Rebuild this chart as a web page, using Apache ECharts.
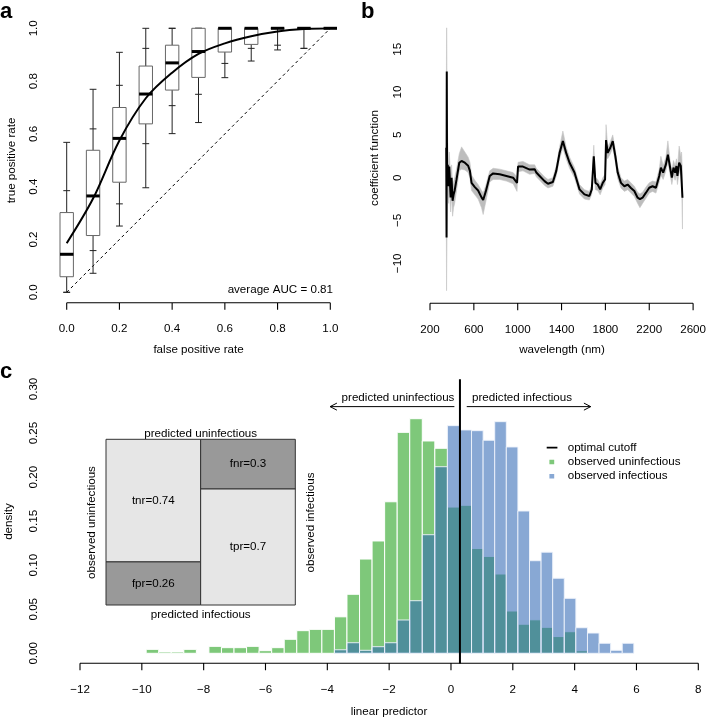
<!DOCTYPE html>
<html>
<head>
<meta charset="utf-8">
<script src="https://cdn.jsdelivr.net/npm/echarts@6/dist/echarts.min.js"></script>
<style>
  html, body { margin: 0; padding: 0; background: #fff; }
  #chart { width: 709px; height: 720px; }
</style>
</head>
<body>
<div id="chart"></div>
<script>
// ---- panel a: cross-validated ROC, boxplots per false positive rate ----
var fprSteps    = [0, 0.1, 0.2, 0.3, 0.4, 0.5, 0.6, 0.7, 0.8, 0.9, 1.0];
var whiskerLow  = [0.0, 0.072, 0.251, 0.396, 0.601, 0.643, 0.813, 0.876, 0.918, 0.924, 1.0];
var markLow     = [0.0, 0.158, 0.335, 0.563, 0.707, 0.750, 0.867, 0.924, 0.936, 0.924, 1.0];
var boxQ1       = [0.059, 0.215, 0.417, 0.638, 0.766, 0.814, 0.910, 0.939, 1.0, 1.0, 1.0];
var boxMedian   = [0.144, 0.365, 0.583, 0.751, 0.869, 0.912, 1.0, 1.0, 1.0, 1.0, 1.0];
var boxQ3       = [0.302, 0.538, 0.700, 0.857, 0.936, 1.0, 1.0, 1.0, 1.0, 1.0, 1.0];
var markHigh    = [0.385, 0.619, 0.784, 0.924, 1.0, 1.0, 1.0, 1.0, 1.0, 1.0, 1.0];
var whiskerHigh = [0.568, 0.769, 0.909, 1.0, 1.0, 1.0, 1.0, 1.0, 1.0, 1.0, 1.0];
var rocMeanTpr  = [0.186, 0.355, 0.575, 0.735, 0.832, 0.903, 0.943, 0.970, 0.988, 0.997, 1.0];
var rocTicks    = [0, 0.2, 0.4, 0.6, 0.8, 1.0];
var aucText = 'average AUC = 0.81';

// ---- panel b: coefficient function over wavelength ----
var wavelength = [348, 351, 353, 356, 362, 370, 376, 382, 388, 397, 406, 415, 425, 442, 467, 488, 518, 548, 564, 579,
  609, 639, 670, 685, 709, 745, 776, 836, 897, 958, 994, 1003, 1048, 1109, 1155, 1170, 1200, 1245, 1276, 1321,
  1352, 1382, 1412, 1442, 1473, 1518, 1564, 1609, 1654, 1676, 1694, 1709, 1730, 1752, 1776, 1797, 1806, 1821, 1845, 1867,
  1891, 1912, 1942, 1973, 2003, 2033, 2064, 2094, 2115, 2139, 2170, 2200, 2230, 2261, 2291, 2306, 2327, 2352, 2370, 2388,
  2406, 2421, 2436, 2448, 2457, 2473, 2488, 2495, 2503];
var coefMean = [3.5, -7.0, 12.4, -1.0, 1.5, -1.0, 1.3, -0.5, -2.3, 0.0, -2.7, -2.0, -1.5, -0.2, 1.75, 1.95, 1.75, 1.4, 0.8, -0.6,
  -1.1, -1.5, -2.3, -2.6, -1.6, 0.2, 0.5, 0.4, 0.2, 0.0, -0.6, 1.3, 1.3, 0.95, 1.0, 0.6, 0.2, -0.4, -0.7, -0.5,
  0.8, 2.9, 4.3, 2.9, 1.75, 0.6, -1.36, -1.95, -2.14, -1.36, 2.5, -0.6, -0.8, -1.36, -0.6, -0.2, 4.4, 2.9, 3.5, 4.28,
  2.5, 0.6, -0.6, -1.0, -0.8, -1.2, -1.56, -2.34, -2.5, -2.34, -1.75, -1.17, -1.0, -1.17, 0.2, 1.17, 0.6, 1.56, 2.7, 1.36,
  0.0, 1.17, 0.6, 1.36, 0.2, 1.75, 1.36, 1.2, -2.34];
var bandLow = [-3, -13.2, -10, -6, -2, -3, -1.5, -2.5, -4, -2, -4.5, -3.5, -3, -1.5, 0.8, 1.0, 0.9, 0.6, 0, -1.5,
  -2, -2.5, -3.5, -4.3, -2.8, -0.5, -0.2, -0.2, -0.4, -0.7, -1.6, 0.7, 0.8, 0.4, 0.5, 0.1, -0.3, -0.9, -1.2, -1.0,
  0.2, 2.2, 3.5, 2.2, 1.1, 0, -1.9, -2.5, -2.6, -1.9, 1.5, -1.4, -1.5, -2.0, -1.2, -0.8, 2.5, 2.2, 2.8, 3.5,
  1.8, -0.1, -1.2, -1.6, -1.4, -1.8, -2.2, -3.0, -3.5, -3.0, -2.4, -1.8, -1.6, -1.8, -0.5, 0.3, -0.2, 0.8, 1.8, 0.5,
  -0.8, 0.3, -0.3, 0.4, -0.8, 0.7, 0.3, -0.5, -6.0];
var bandHigh = [5, 17.5, 17.5, 8, 4, 1.5, 3, 1.5, 0, 1.5, -1, -0.5, 0, 1, 2.8, 3.6, 3.0, 2.4, 1.8, 0.3,
  -0.3, -0.8, -1.5, -1.8, -0.9, 0.8, 1.1, 1.0, 0.8, 0.6, 0.1, 1.8, 1.9, 1.5, 1.5, 1.1, 0.7, 0.1, -0.2, 0,
  1.4, 3.6, 5.45, 3.6, 2.4, 1.2, -0.8, -1.4, -1.6, -0.8, 3.8, 0, -0.2, -0.8, 0, 0.4, 6.2, 3.6, 4.2, 5.0,
  3.2, 1.3, 0, -0.4, -0.2, -0.6, -1.0, -1.7, -1.9, -1.7, -1.1, -0.6, -0.4, -0.5, 1.0, 2.5, 1.4, 2.4, 4.3, 2.2,
  0.8, 2.0, 1.4, 2.2, 1.2, 3.7, 2.5, 3.0, 0.5];
var wavelengthTicks = [200, 600, 1000, 1400, 1800, 2200, 2600];
var coefTicks = [-10, -5, 0, 5, 10, 15];

// ---- panel c: histogram of linear predictor ----
var binEdges = [-9.86, -9.454, -9.048, -8.642, -8.236, -7.83, -7.424, -7.018, -6.612, -6.206,
  -5.80, -5.394, -4.988, -4.582, -4.176, -3.77, -3.364, -2.958, -2.552, -2.146,
  -1.74, -1.334, -0.928, -0.522, -0.116, 0.29, 0.665, 1.04, 1.415, 1.79,
  2.165, 2.54, 2.915, 3.29, 3.665, 4.04, 4.415, 4.79, 5.165, 5.54, 5.915];
var densUninfectious = [0.0045, 0.0015, 0.0015, 0.0045, 0, 0.0079, 0.0064, 0.0064, 0.0079, 0.003,
  0.0064, 0.0159, 0.0257, 0.0272, 0.0272, 0.0414, 0.067, 0.107, 0.1275, 0.172,
  0.2508, 0.2663, 0.241, 0.2327, 0.166, 0.168, 0.119, 0.110, 0.090, 0.048,
  0.033, 0.038, 0.0295, 0.019, 0.0245, 0.003, 0, 0, 0, 0];
var densInfectious = [0, 0, 0, 0, 0, 0, 0, 0, 0, 0,
  0, 0, 0, 0, 0, 0.004, 0.012, 0.0034, 0.0075, 0.012,
  0.0378, 0.0597, 0.1346, 0.2118, 0.2584, 0.2535, 0.2527, 0.2418, 0.2629, 0.2342,
  0.1615, 0.1051, 0.1148, 0.0852, 0.0624, 0.029, 0.023, 0.0114, 0.0034, 0.0114];
var optimalCutoff = 0.29;
var predictorTicks = [-12, -10, -8, -6, -4, -2, 0, 2, 4, 6, 8];
var densityTicks = [0, 0.05, 0.1, 0.15, 0.2, 0.25, 0.3];

// mosaic inset (confusion rates)
var mosaicNames = ['tnr', 'fpr', 'fnr', 'tpr'];
var mosaicRates = [0.74, 0.26, 0.3, 0.7];

var FONT = '"Liberation Sans", Arial, Helvetica, sans-serif';
var FS = 11.6;
var GREEN = '#7ec87a';
var BLUE = 'rgba(46,102,180,0.57)';

function minusFmt(v) { return v < 0 ? '\u2212' + Math.abs(v) : String(v); }

// axes carry the scale and the tick labels; the detached R-style axis lines are a line series (axisFrame)
function axisStyle(o) {
  var base = {
    type: 'value',
    axisLine: { show: false, onZero: false },
    axisTick: { show: false },
    splitLine: { show: false },
    axisLabel: { color: '#000', fontFamily: FONT, fontSize: FS, showMinLabel: true, showMaxLabel: true, hideOverlap: false }
  };
  for (var k in o) {
    if (k === 'axisLabel') { for (var j in o.axisLabel) base.axisLabel[j] = o.axisLabel[j]; }
    else base[k] = o[k];
  }
  return base;
}
function hiddenAxis(o) {
  var base = { type: 'value', show: false, splitLine: { show: false }, axisLine: { onZero: false } };
  for (var k in o) base[k] = o[k];
  return base;
}

// kx, ky: data units per pixel of that grid; offsets and tick length are in pixels
function axisFrame(gi, xTicks, yTicks, xOff, yOff, kx, ky) {
  var tick = 7;
  var yA = yTicks[0] - xOff * ky;
  var xA = xTicks[0] - yOff * kx;
  var d = [[xTicks[0], yA], [xTicks[xTicks.length - 1], yA], [xA, '-'],
           [xA, yTicks[0]], [xA, yTicks[yTicks.length - 1]], [xA, '-']];
  xTicks.forEach(function (v) { d.push([v, yA], [v, yA - tick * ky], [v, '-']); });
  yTicks.forEach(function (v) { d.push([xA, v], [xA - tick * kx, v], [xA, '-']); });
  return { type: 'line', xAxisIndex: gi, yAxisIndex: gi, data: d, symbol: 'none', silent: true,
    clip: false, connectNulls: false, z: 6, lineStyle: { color: '#000', width: 1.1 } };
}

function seg(x1, y1, x2, y2, color, w) {
  return { type: 'line', shape: { x1: x1, y1: y1, x2: x2, y2: y2 }, style: { stroke: color, lineWidth: w } };
}

function renderBox(params, api) {
  var x = api.value(0);
  var cx = api.coord([x, 0])[0];
  var yy = function (i) { return api.coord([x, api.value(i)])[1]; };
  var half = 6.7, cap = 3.4;
  var wl = yy(1), ml = yy(2), q1 = yy(3), md = yy(4), q3 = yy(5), mh = yy(6), wh = yy(7);
  return {
    type: 'group',
    children: [
      seg(cx, wl, cx, q1, '#222', 1),
      seg(cx, q3, cx, wh, '#222', 1),
      seg(cx - cap, wl, cx + cap, wl, '#222', 1),
      seg(cx - cap, wh, cx + cap, wh, '#222', 1),
      seg(cx - cap, ml, cx + cap, ml, '#222', 1),
      seg(cx - cap, mh, cx + cap, mh, '#222', 1),
      { type: 'rect', shape: { x: cx - half, y: q3, width: 2 * half, height: q1 - q3 },
        style: { fill: '#fff', stroke: '#666', lineWidth: 1 } },
      seg(cx - half, md, cx + half, md, '#000', 3)
    ]
  };
}

function renderBand(params, api) {
  if (params.dataIndex !== 0) return null;
  var pts = [];
  for (var i = 0; i < wavelength.length; i++) pts.push(api.coord([wavelength[i], bandHigh[i]]));
  for (var j = wavelength.length - 1; j >= 0; j--) pts.push(api.coord([wavelength[j], bandLow[j]]));
  return { type: 'polygon', shape: { points: pts }, style: { fill: '#bdbdbd', stroke: '#c4c4c4', lineWidth: 0.6 } };
}

function makeBarRenderer(stroke) {
  return function (params, api) {
    var h = api.value(2);
    if (!h) return null;
    var p0 = api.coord([api.value(0), h]);
    var p1 = api.coord([api.value(1), 0]);
    return {
      type: 'rect',
      shape: { x: p0[0], y: p0[1], width: p1[0] - p0[0], height: p1[1] - p0[1] },
      style: { fill: api.visual('color'), stroke: stroke, lineWidth: 1 }
    };
  };
}

function renderMosaic(params, api) {
  var col = api.value(0), bottom = api.value(1), top = api.value(2), dark = api.value(3);
  var p0 = api.coord([col, top]);
  var p1 = api.coord([col + 1, bottom]);
  var name = mosaicNames[params.dataIndex] + '=' + mosaicRates[params.dataIndex];
  return {
    type: 'group',
    children: [
      { type: 'rect', shape: { x: p0[0], y: p0[1], width: p1[0] - p0[0], height: p1[1] - p0[1] },
        style: { fill: dark ? '#999999' : '#e6e6e6', stroke: '#333', lineWidth: 1 } },
      { type: 'text', x: (p0[0] + p1[0]) / 2, y: (p0[1] + p1[1]) / 2,
        style: { text: name, align: 'center', verticalAlign: 'middle', fontFamily: FONT, fontSize: FS, fill: '#000' } }
    ]
  };
}

var boxData = fprSteps.map(function (x, i) {
  return [x, whiskerLow[i], markLow[i], boxQ1[i], boxMedian[i], boxQ3[i], markHigh[i], whiskerHigh[i]];
});
var bandData = wavelength.map(function (w, i) { return [w, bandLow[i], bandHigh[i]]; });
var greenBins = densUninfectious.map(function (d, i) { return [binEdges[i], binEdges[i + 1], d]; });
var blueBins = densInfectious.map(function (d, i) { return [binEdges[i], binEdges[i + 1], d]; });
// columns: observed uninfectious (tnr on top, fpr below), observed infectious (fnr on top, tpr below)
var mosaicData = [
  [0, mosaicRates[1], 1, 0],
  [0, 0, mosaicRates[1], 1],
  [1, 1 - mosaicRates[2], 1, 1],
  [1, 0, 1 - mosaicRates[2], 0]
];

function txt(text, x, y, extra) {
  var el = { type: 'text', x: x, y: y, silent: true,
    style: { text: text, align: 'center', verticalAlign: 'middle', fontFamily: FONT, fontSize: FS, fill: '#000' } };
  if (extra) { for (var k in extra) { if (k === 'style') { for (var s in extra.style) el.style[s] = extra.style[s]; } else el[k] = extra[k]; } }
  return el;
}
var ROT = { rotation: Math.PI / 2 };
var BOLD = { style: { fontWeight: 'bold', fontSize: 22, align: 'left' } };

var LINE_ICON = 'path://M0,0h0.01v0.01h-0.01z M0,1.6h10.7v1.8h-10.7z M15.99,4.99h0.01v0.01h-0.01z';
var SQ_ICON = 'path://M0,0h0.01v0.01h-0.01z M2.7,0.2h4.8v4.6h-4.8z M15.99,4.99h0.01v0.01h-0.01z';

var chart = echarts.init(document.getElementById('chart'), null, { renderer: 'canvas' });
chart.setOption({
  animation: false,
  backgroundColor: '#fff',
  grid: [
    { left: 66.7, top: 28.3, width: 263.6, height: 264 },
    { left: 430, top: 49.3, width: 264, height: 214 },
    { left: 80, top: 389, width: 618.3, height: 264.3 },
    { left: 106, top: 439.3, width: 189.3, height: 165.7 }
  ],
  xAxis: [
    axisStyle({ gridIndex: 0, min: 0, max: 1, interval: 0.2, offset: 10.4,
      axisLabel: { margin: 20, formatter: function (v) { return v.toFixed(1); } } }),
    axisStyle({ gridIndex: 1, min: 200, max: 2600, interval: 400, offset: 40,
      axisLabel: { margin: 20, formatter: function (v) { return String(v); } } }),
    axisStyle({ gridIndex: 2, min: -12, max: 8, interval: 2, offset: 10,
      axisLabel: { margin: 20, formatter: minusFmt } }),
    hiddenAxis({ gridIndex: 3, min: 0, max: 2 })
  ],
  yAxis: [
    axisStyle({ gridIndex: 0, min: 0, max: 1, interval: 0.2, offset: 12.4,
      axisLabel: { rotate: 90, margin: 15, formatter: function (v) { return v.toFixed(1); } } }),
    axisStyle({ gridIndex: 1, min: -10, max: 15, interval: 5, offset: 11,
      axisLabel: { rotate: 90, margin: 15, formatter: minusFmt } }),
    axisStyle({ gridIndex: 2, min: 0, max: 0.3, interval: 0.05, offset: 25,
      axisLabel: { rotate: 90, margin: 15, formatter: function (v) { return v.toFixed(2); } } }),
    hiddenAxis({ gridIndex: 3, min: 0, max: 1 })
  ],
  legend: {
    orient: 'vertical', left: 546.7, top: 440.5, padding: 0, itemGap: 0,
    itemWidth: 16, itemHeight: 5, selectedMode: false,
    itemStyle: { borderWidth: 0 },
    textStyle: { fontFamily: FONT, fontSize: FS, color: '#000', lineHeight: 14.3 },
    data: [
      { name: 'optimal cutoff', icon: LINE_ICON },
      { name: 'observed uninfectious', icon: SQ_ICON },
      { name: 'observed infectious', icon: SQ_ICON }
    ]
  },
  series: [
    axisFrame(0, rocTicks, rocTicks, 10.4, 12.4, 1 / 263.6, 1 / 264),
    axisFrame(1, wavelengthTicks, coefTicks, 40, 11, 2400 / 264, 25 / 214),
    axisFrame(2, predictorTicks, densityTicks, 10, 25, 20 / 618.3, 0.3 / 264.3),

    { type: 'line', xAxisIndex: 0, yAxisIndex: 0, data: [[0, 0], [1, 1]], symbol: 'none', silent: true,
      lineStyle: { color: '#000', width: 1, type: [3, 3] }, z: 1 },
    { type: 'custom', xAxisIndex: 0, yAxisIndex: 0, data: boxData, renderItem: renderBox, silent: true, z: 2,
      encode: { x: 0, y: [1, 7] } },
    { type: 'line', xAxisIndex: 0, yAxisIndex: 0, smooth: 0.35, symbol: 'none', silent: true, z: 3,
      data: fprSteps.map(function (x, i) { return [x, rocMeanTpr[i]]; }),
      lineStyle: { color: '#000', width: 2 } },

    { type: 'custom', xAxisIndex: 1, yAxisIndex: 1, data: bandData, renderItem: renderBand, silent: true, z: 2,
      encode: { x: 0, y: [1, 2] } },
    { type: 'line', xAxisIndex: 1, yAxisIndex: 1, symbol: 'none', silent: true, clip: false, z: 3,
      data: wavelength.map(function (w, i) { return [w, coefMean[i]]; }),
      lineStyle: { color: '#000', width: 2 } },

    { name: 'observed uninfectious', type: 'custom', xAxisIndex: 2, yAxisIndex: 2, data: greenBins,
      renderItem: makeBarRenderer('#ffffff'), itemStyle: { color: GREEN }, silent: true, z: 2,
      encode: { x: [0, 1], y: 2 } },
    { name: 'observed infectious', type: 'custom', xAxisIndex: 2, yAxisIndex: 2, data: blueBins,
      renderItem: makeBarRenderer('rgba(240,244,252,0.9)'), itemStyle: { color: BLUE }, silent: true, z: 3,
      encode: { x: [0, 1], y: 2 } },
    { name: 'optimal cutoff', type: 'line', xAxisIndex: 2, yAxisIndex: 2, symbol: 'none', silent: true, clip: false, z: 4,
      data: [[optimalCutoff, -0.0115], [optimalCutoff, 0.311]],
      itemStyle: { color: '#000' }, lineStyle: { color: '#000', width: 2 } },
    { type: 'line', xAxisIndex: 2, yAxisIndex: 2, symbol: 'none', silent: true, clip: false, z: 4,
      data: [[0.11, 0.28], [-3.91, 0.28]], lineStyle: { color: '#000', width: 1 } },
    { type: 'line', xAxisIndex: 2, yAxisIndex: 2, symbol: 'none', silent: true, clip: false, z: 4,
      data: [[-3.69, 0.284], [-3.91, 0.28], [-3.69, 0.276]], lineStyle: { color: '#000', width: 1 } },
    { type: 'line', xAxisIndex: 2, yAxisIndex: 2, symbol: 'none', silent: true, clip: false, z: 4,
      data: [[0.51, 0.28], [4.52, 0.28]], lineStyle: { color: '#000', width: 1 } },
    { type: 'line', xAxisIndex: 2, yAxisIndex: 2, symbol: 'none', silent: true, clip: false, z: 4,
      data: [[4.30, 0.284], [4.52, 0.28], [4.30, 0.276]], lineStyle: { color: '#000', width: 1 } },

    { type: 'custom', xAxisIndex: 3, yAxisIndex: 3, data: mosaicData, renderItem: renderMosaic, silent: true, z: 5,
      encode: { x: 0, y: [1, 2] } }
  ],
  graphic: [
    txt('a', 0, 12, BOLD),
    txt('b', 361, 12, BOLD),
    txt('c', 0, 372, BOLD),
    txt('false positive rate', 198.5, 350),
    txt('true positive rate', 11.7, 160.5, ROT),
    txt(aucText, 333, 290, { style: { align: 'right' } }),
    txt('wavelength (nm)', 562, 350),
    txt('coefficient function', 375, 158, ROT),
    txt('linear predictor', 389, 711.7),
    txt('density', 9, 521.5, ROT),
    txt('predicted uninfectious', 398, 397.3),
    txt('predicted infectious', 522, 397.3),
    txt('predicted uninfectious', 200.7, 433.3),
    txt('predicted infectious', 200.7, 614.3),
    txt('observed uninfectious', 91.7, 522.5, ROT),
    txt('observed infectious', 311, 522.5, ROT)
  ]
});
</script>
</body>
</html>
